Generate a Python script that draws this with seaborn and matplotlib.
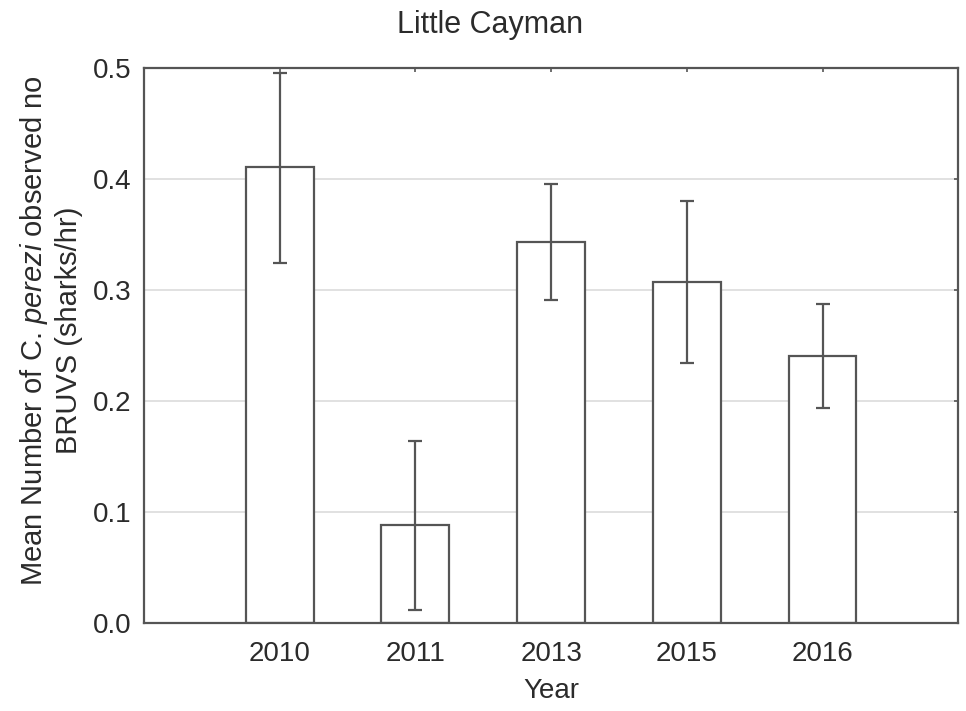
import matplotlib
matplotlib.use('Agg')
import matplotlib.pyplot as plt
import seaborn as sns
import pandas as pd

# values
years = ['2010', '2011', '2013', '2015', '2016']
mean_rate = [0.410, 0.088, 0.343, 0.307, 0.240]
ci_low = [0.324, 0.012, 0.291, 0.234, 0.193]
ci_high = [0.495, 0.164, 0.395, 0.380, 0.287]

data = pd.DataFrame({'Year': years, 'Rate': mean_rate})

sns.set_style('white')
plt.rcParams['font.family'] = ['Liberation Sans', 'DejaVu Sans']
plt.rcParams['mathtext.fontset'] = 'custom'
plt.rcParams['mathtext.rm'] = 'Liberation Sans'
plt.rcParams['mathtext.it'] = 'Liberation Sans:italic'

text_col = '#2b2b2b'
line_col = '#555555'

fig = plt.figure(figsize=(9.66, 7.11), dpi=100)
ax = fig.add_axes([0.149, 0.124, 0.843, 0.781])

ax.yaxis.grid(True, color='#dcdcdc', linewidth=1.2)
ax.set_axisbelow(True)

sns.barplot(data=data, x='Year', y='Rate', errorbar=None, color='white',
            edgecolor=line_col, linewidth=1.6, width=0.5, ax=ax, zorder=2)

yerr = [[m - lo for m, lo in zip(mean_rate, ci_low)],
        [hi - m for m, hi in zip(mean_rate, ci_high)]]
ax.errorbar(range(len(years)), mean_rate, yerr=yerr, fmt='none',
            ecolor=line_col, elinewidth=1.6, capsize=5, capthick=1.6, zorder=3)

ax.set_xlim(-1, 5)
ax.set_ylim(0, 0.5)
ax.set_yticks([0.0, 0.1, 0.2, 0.3, 0.4, 0.5])
ax.set_yticklabels(['0.0', '0.1', '0.2', '0.3', '0.4', '0.5'])

for side in ax.spines.values():
    side.set_visible(True)
    side.set_color(line_col)
    side.set_linewidth(1.6)

ax.tick_params(axis='both', direction='in', length=3, width=1.2, color=line_col,
               top=True, right=True, labelsize=20, labelcolor=text_col)
ax.tick_params(axis='y', pad=9)
ax.tick_params(axis='x', pad=13)

ax.set_xlabel('Year', fontsize=20, color=text_col, labelpad=8)
ax.set_ylabel('Mean Number of C. $\\mathit{perezi}$ observed no\nBRUVS (sharks/hr)',
              fontsize=21, color=text_col, va='center', linespacing=1.25)
ax.yaxis.set_label_coords(-0.115, 0.527)

fig.suptitle('Little Cayman', x=0.507, y=0.965, va='center', fontsize=22, color=text_col)

plt.savefig('out.png', dpi=100)
